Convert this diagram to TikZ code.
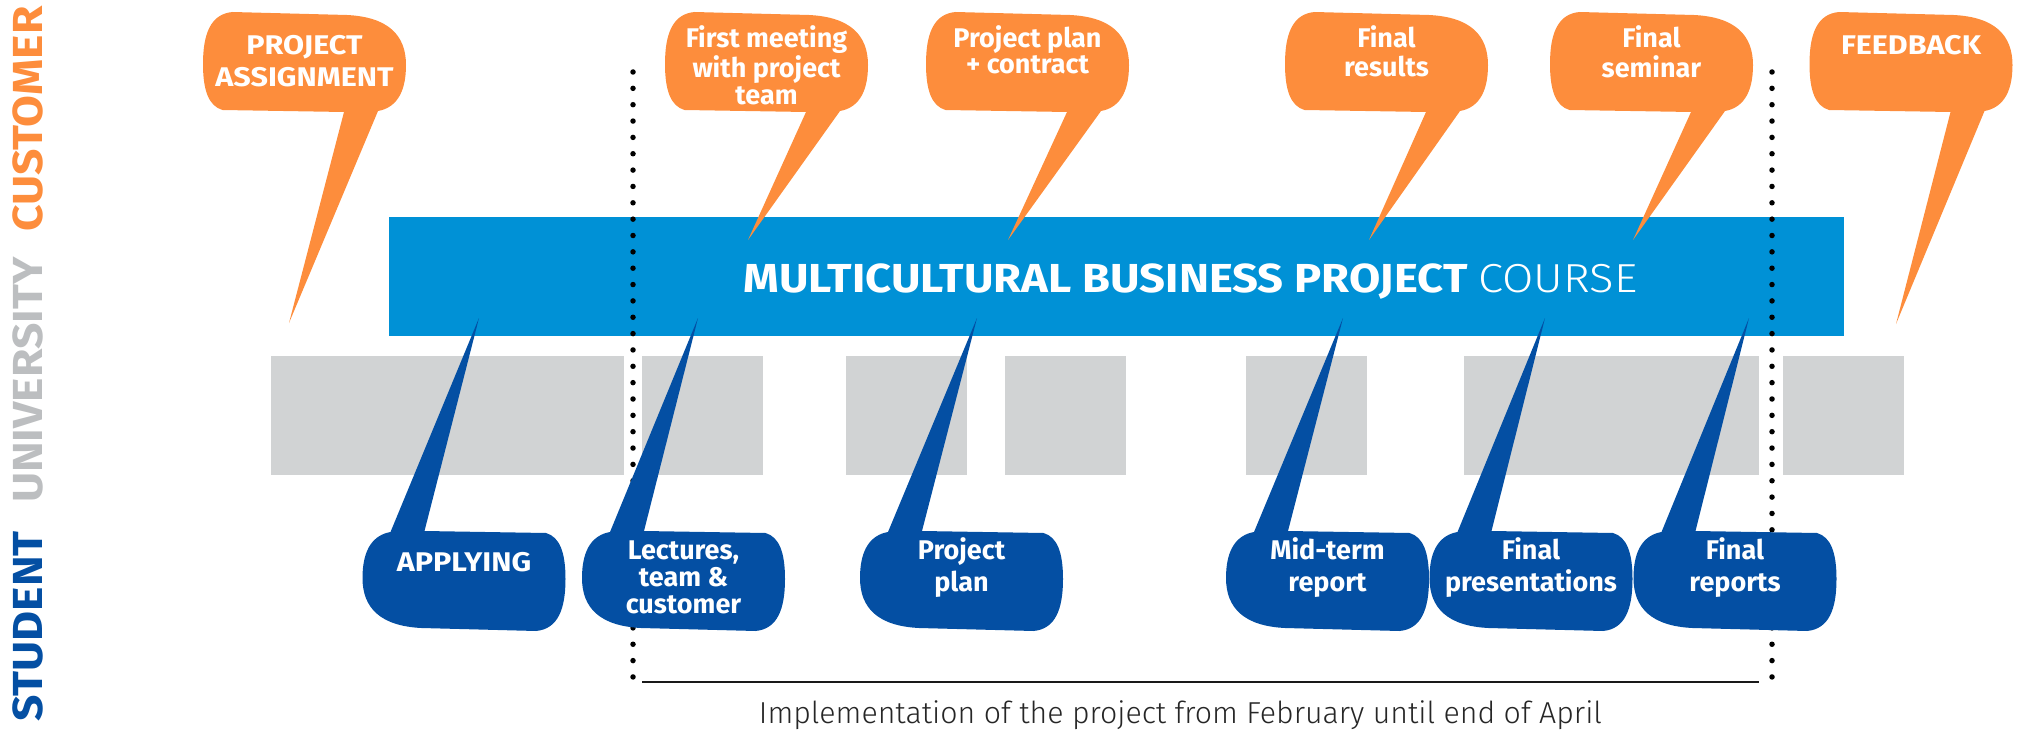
\documentclass[tikz,border=0pt]{standalone}
\usepackage{fontspec}
\setmainfont{Fira Sans}
\newfontfamily\flight{Fira Sans Light}
\definecolor{orng}{RGB}{253,141,60}
\definecolor{barblue}{RGB}{0,145,214}
\definecolor{dkblue}{RGB}{4,79,163}
\definecolor{boxgray}{RGB}{209,211,212}
\definecolor{lblgray}{RGB}{188,190,192}
\newcommand{\mlines}[1]{\begin{tabular}[t]{@{}c@{}}#1\end{tabular}}
\newcommand{\widecaps}[1]{\scalebox{1.13}[1]{#1}}
% #1 colour, #2 centre, #3 name of tail tip coordinate, #4 rotation
\newcommand{\bubshape}[4]{%
  \begin{scope}[shift={#2}, rotate=#4]
    \fill[#1] (-72,-50) -- (42.5,-47) .. controls (83.5,-45) and (101.5,-27) .. (101.5,3)
      .. controls (101.5,33) and (90,46) .. (73.5,49) -- (#3) -- (39.5,50) -- (-82,48)
      .. controls (-96,44) and (-101.5,28) .. (-101.5,2)
      .. controls (-101.5,-28) and (-94,-48) .. (-72,-50) -- cycle;
  \end{scope}}
\tikzset{
  bubtxt/.style={anchor=base, inner sep=0pt, text=white, font=\bfseries\fontsize{27}{27}\selectfont},
  sidelbl/.style={rotate=90, anchor=base west, inner sep=0pt, font=\bfseries\fontsize{42}{42}\selectfont},
  graybox/.style={fill=boxgray, draw=none, inner sep=0pt, anchor=north west, minimum height=119pt},
  dotline/.style={line width=5.5pt, line cap=round, dash pattern=on 0pt off 16.35pt},
}
\begin{document}
\begin{tikzpicture}[x=1pt, y=-1pt]
\useasboundingbox (0,0) rectangle (2019,733);

% side labels
\node[sidelbl, text=dkblue] (stu) at (42,722) {\scalebox{1.1}[1]{STUDENT}};
\node[sidelbl, text=lblgray] (uni) at (42,503) {\scalebox{1.1}[1]{UNIVERSITY}};
\node[sidelbl, text=orng] (cus) at (42,232) {\scalebox{1.1}[1]{CUSTOMER}};

% course bar
\node[fill=barblue, inner sep=0pt, anchor=north west, minimum width=1455pt, minimum height=119pt] (bar) at (389,217) {};

% gray boxes
\node[graybox, minimum width=353pt] (g1) at (271,356) {};
\node[graybox, minimum width=121pt] (g2) at (642,356) {};
\node[graybox, minimum width=121pt] (g3) at (846,356) {};
\node[graybox, minimum width=121pt] (g4) at (1005,356) {};
\node[graybox, minimum width=121pt] (g5) at (1246,356) {};
\node[graybox, minimum width=295pt] (g6) at (1464,356) {};
\node[graybox, minimum width=121pt] (g7) at (1783,356) {};

% dotted limits and period line
\coordinate (dlt) at (633,72);
\coordinate (dlb) at (633,678);
\coordinate (drt) at (1772,72);
\coordinate (drb) at (1772,678);
\draw[dotline] (dlt) -- (dlb);
\draw[dotline] (drt) -- (drb);
\coordinate (hl) at (642,682);
\coordinate (hr) at (1759,682);
\draw[line width=2.5pt, black!90] (hl) -- (hr);

% bar text
\node[anchor=base, inner sep=0pt, text=white, font=\fontsize{40.5}{40}\selectfont] (bartxt) at (1190.5,292)
  {\scalebox{1.12}[1]{\bfseries MULTICULTURAL BUSINESS PROJECT {\mdseries\flight COURSE}}};

% customer bubbles (top)
\coordinate (paT) at (289,323);
\coordinate (fmT) at (748,240);
\coordinate (ppT) at (1008,240);
\coordinate (frT) at (1369,240);
\coordinate (fsT) at (1633,240);
\coordinate (fbT) at (1896,324);
\bubshape{orng}{(304.5,62)}{paT}{0}
\bubshape{orng}{(766.5,62)}{fmT}{0}
\bubshape{orng}{(1027.5,62)}{ppT}{0}
\bubshape{orng}{(1386.5,62)}{frT}{0}
\bubshape{orng}{(1651.5,62)}{fsT}{0}
\bubshape{orng}{(1911,62)}{fbT}{0}
\node[bubtxt, font=\bfseries\fontsize{27}{32}\selectfont] (pa) at (304.5,55) {\widecaps{\mlines{PROJECT\\ASSIGNMENT}}};
\node[bubtxt, font=\bfseries\fontsize{27}{26.5}\selectfont] (fm) at (766.5,48) {\mlines{First meeting\\with project\\team}};
\node[bubtxt, font=\bfseries\fontsize{27}{26}\selectfont] (pp) at (1027.5,48) {\mlines{Project plan\\+ contract}};
\node[bubtxt] (fr) at (1386.5,48) {\mlines{Final\\results}};
\node[bubtxt] (fs) at (1651.5,48) {\mlines{Final\\seminar}};
\node[bubtxt] (fb) at (1911,55) {\widecaps{FEEDBACK}};

% student bubbles (bottom)
\coordinate (apT) at (479,318);
\coordinate (leT) at (698,318);
\coordinate (plT) at (977,318);
\coordinate (mtT) at (1343,318);
\coordinate (fpT) at (1545,318);
\coordinate (rpT) at (1749,318);
\bubshape{dkblue}{(464,581)}{apT}{180}
\bubshape{dkblue}{(683.5,581)}{leT}{180}
\bubshape{dkblue}{(961.5,581)}{plT}{180}
\bubshape{dkblue}{(1327.5,581)}{mtT}{180}
\bubshape{dkblue}{(1531,581)}{fpT}{180}
\bubshape{dkblue}{(1735,581)}{rpT}{180}
\node[bubtxt] (ap) at (464,571) {\widecaps{APPLYING}};
\node[bubtxt, font=\bfseries\fontsize{27}{27}\selectfont] (le) at (683.5,559) {\mlines{Lectures,\\team \&\\customer}};
\node[bubtxt, font=\bfseries\fontsize{27}{32}\selectfont] (pl) at (961.5,559) {\mlines{Project\\plan}};
\node[bubtxt, font=\bfseries\fontsize{27}{32}\selectfont] (mt) at (1327.5,559) {\mlines{Mid-term\\report}};
\node[bubtxt, font=\bfseries\fontsize{27}{32}\selectfont] (fp) at (1531,559) {\mlines{Final\\presentations}};
\node[bubtxt, font=\bfseries\fontsize{27}{32}\selectfont] (rp) at (1735,559) {\mlines{Final\\reports}};

% period caption
\node[anchor=base, inner sep=0pt, text=black!85, font=\flight\fontsize{30.3}{30}\selectfont] (impl) at (1180.5,723)
  {Implementation of the project from February until end of April};
\end{tikzpicture}
\end{document}
